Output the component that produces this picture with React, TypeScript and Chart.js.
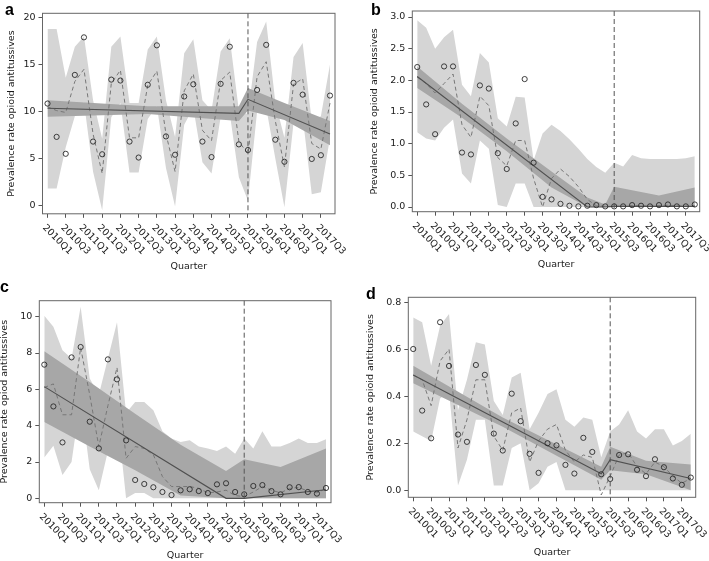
import { useEffect, useRef } from 'react';
import { Chart, registerables } from 'chart.js';

Chart.register(...registerables);

// quarters on the x axis (index = position)
const QUARTERS = [
  '2010Q1', '2010Q2', '2010Q3', '2010Q4', '2011Q1', '2011Q2', '2011Q3', '2011Q4',
  '2012Q1', '2012Q2', '2012Q3', '2012Q4', '2013Q1', '2013Q2', '2013Q3', '2013Q4',
  '2014Q1', '2014Q2', '2014Q3', '2014Q4', '2015Q1', '2015Q2', '2015Q3', '2015Q4',
  '2016Q1', '2016Q2', '2016Q3', '2016Q4', '2017Q1', '2017Q2', '2017Q3', '2017Q4',
];
const TICK_LABELS = [
  '2010Q1', '2010Q3', '2011Q1', '2011Q3', '2012Q1', '2012Q3', '2013Q1', '2013Q3',
  '2014Q1', '2014Q3', '2015Q1', '2015Q3', '2016Q1', '2016Q3', '2017Q1', '2017Q3',
];
const BREAK_QUARTER = '2015Q3';

// ---- panel a
const OBS_A = [10.85, 7.3, 5.5, 13.9, 17.9, 6.8, 5.45, 13.4, 13.3, 6.8, 5.1, 12.85, 17.05, 7.35, 5.4, 11.6,
  12.9, 6.8, 5.15, 12.95, 16.9, 6.5, 5.9, 12.3, 17.1, 7.0, 4.65, 13.05, 11.8, 4.95, 5.35, 11.7];
const FIT_A = [10.5, 10.1, 9.9, 13.2, 14.5, 7.6, 3.4, 13.0, 14.4, 7.2, 7.2, 12.8, 14.3, 7.6, 3.6, 12.2,
  14.0, 8.0, 6.9, 13.3, 14.2, 6.8, 5.5, 13.7, 15.3, 9.0, 4.1, 12.9, 13.5, 6.6, 6.0, 10.9];
const PI_HI_A = [18.8, 18.8, 13.6, 16.9, 18.0, 11.2, 7.1, 16.9, 18.0, 10.9, 10.9, 16.6, 18.0, 11.2, 7.3, 16.2,
  17.7, 11.2, 10.1, 16.4, 17.8, 10.1, 9.7, 17.4, 19.6, 11.0, 7.2, 15.8, 17.3, 9.0, 9.5, 15.0];
const PI_LO_A = [1.8, 1.8, 6.2, 9.5, 11.0, 3.6, -0.5, 9.4, 10.9, 3.5, 3.5, 9.2, 10.6, 4.0, -0.1, 8.6,
  10.4, 4.6, 3.4, 9.4, 9.8, 3.0, 0.5, 10.0, 10.4, 5.0, -0.2, 8.8, 9.5, 1.2, 1.4, 7.2];
const TREND_Q_A = ['2010Q1', '2015Q2', '2015Q3', '2017Q4'];
const TREND_A = [10.35, 9.8, 11.3, 7.6];
const CI_Q_A = ['2010Q1', '2012Q4', '2015Q2', '2015Q3', '2016Q3', '2017Q4'];
const CI_HI_A = [11.2, 10.55, 10.55, 12.5, 10.9, 9.0];
const CI_LO_A = [9.45, 9.75, 9.0, 10.1, 9.1, 6.4];
const Y_TICKS_A = [0, 5, 10, 15, 20];

// ---- panel b
const OBS_B = [2.21, 1.62, 1.15, 2.22, 2.22, 0.86, 0.83, 1.92, 1.87, 0.85, 0.6, 1.32, 2.02, 0.7, 0.16, 0.12,
  0.05, 0.02, 0.01, 0.02, 0.03, 0.01, 0.01, 0.01, 0.03, 0.02, 0.01, 0.03, 0.04, 0.01, 0.01, 0.04];
const FIT_B = [2.05, 1.95, 1.8, 1.95, 2.1, 1.3, 1.1, 1.75, 1.6, 0.78, 0.65, 1.05, 1.05, 0.45, 0.0, 0.45,
  0.6, 0.48, 0.32, 0.12, 0.02, 0.01, 0.01, 0.01, 0.02, 0.02, 0.01, 0.02, 0.03, 0.02, 0.01, 0.02];
const PI_HI_B = [2.95, 2.83, 2.5, 2.68, 2.8, 1.93, 1.75, 2.43, 2.28, 1.4, 1.27, 1.74, 1.73, 0.74, 1.16, 1.3,
  1.2, 1.07, 0.92, 0.76, 0.63, 0.54, 0.7, 0.64, 0.82, 0.77, 0.76, 0.76, 0.76, 0.76, 0.77, 0.8];
const PI_LO_B = [1.18, 1.08, 1.05, 1.25, 1.38, 0.53, 0.37, 1.05, 0.92, 0.03, 0.0, 0.37, 0.37, 0, 0, 0,
  0, 0, 0, 0, 0, 0, 0, 0, 0, 0, 0, 0, 0, 0, 0, 0];
const TREND_Q_B = ['2010Q1', '2014Q4', '2015Q2', '2015Q3', '2017Q4'];
const TREND_B = [2.06, 0.0, 0.0, 0.01, 0.01];
const CI_Q_B = ['2010Q1', '2011Q2', '2012Q3', '2013Q4', '2014Q4', '2015Q2', '2015Q3', '2016Q4', '2017Q4'];
const CI_HI_B = [2.22, 1.63, 1.08, 0.56, 0.15, 0.04, 0.32, 0.18, 0.31];
const CI_LO_B = [1.88, 1.41, 0.88, 0.31, 0.0, 0.0, 0.0, 0.0, 0.0];
const Y_TICKS_B = [0, 0.5, 1, 1.5, 2, 2.5, 3];

// ---- panel c
const OBS_C = [7.36, 5.06, 3.08, 7.76, 8.33, 4.22, 2.75, 7.65, 6.55, 3.19, 1.01, 0.79, 0.61, 0.35, 0.18, 0.44,
  0.5, 0.4, 0.29, 0.77, 0.83, 0.35, 0.22, 0.68, 0.73, 0.4, 0.22, 0.61, 0.62, 0.35, 0.26, 0.57];
const FIT_C = [6.1, 6.3, 4.6, 4.6, 8.3, 5.7, 2.85, 5.1, 7.2, 2.2, 2.85, 2.75, 2.4, 1.2, 0.65, 0.65,
  0.65, 0.55, 0.3, 0.35, 0.45, 0.15, 0.1, 0.35, 0.65, 0.45, 0.3, 0.55, 0.6, 0.4, 0.3, 0.55];
const PI_HI_C = [10.05, 9.45, 8.15, 7.7, 10.55, 6.6, 5.7, 7.7, 9.7, 4.7, 5.3, 5.3, 4.85, 3.7, 3.3, 3.1,
  3.2, 2.85, 2.75, 2.6, 2.85, 2.45, 3.3, 2.75, 3.7, 2.85, 2.85, 3.05, 3.3, 3.05, 3.05, 3.25];
const PI_LO_C = [2.25, 2.9, 1.28, 2.0, 5.5, 1.6, 0.45, 2.6, 4.7, 0.0, 0.3, 0.3, 0, 0, 0, 0,
  0, 0, 0, 0, 0, 0, 0, 0, 0, 0, 0, 0, 0, 0, 0, 0];
const TREND_Q_C = ['2010Q1', '2015Q1', '2015Q3', '2017Q4'];
const TREND_C = [6.15, 0.0, 0.0, 0.47];
const CI_Q_C = ['2010Q1', '2011Q2', '2012Q3', '2013Q4', '2015Q1', '2015Q3', '2016Q3', '2017Q4'];
const CI_HI_C = [8.1, 6.4, 4.65, 2.95, 1.5, 2.15, 1.72, 2.75];
const CI_LO_C = [4.2, 2.85, 1.55, 0.15, 0.0, 0.0, 0.0, 0.0];
const Y_TICKS_C = [0, 2, 4, 6, 8, 10];

// ---- panel d
const OBS_D = [0.601, 0.339, 0.221, 0.715, 0.529, 0.237, 0.206, 0.533, 0.491, 0.241, 0.169, 0.411, 0.294, 0.155, 0.074, 0.2,
  0.191, 0.108, 0.071, 0.223, 0.163, 0.068, 0.048, 0.15, 0.153, 0.087, 0.06, 0.132, 0.098, 0.05, 0.023, 0.054];
const FIT_D = [0.49, 0.47, 0.36, 0.55, 0.6, 0.18, 0.3, 0.47, 0.47, 0.23, 0.17, 0.33, 0.35, 0.12, 0.21, 0.26,
  0.28, 0.17, 0.12, 0.15, 0.14, -0.02, 0.06, 0.15, 0.16, 0.1, 0.07, 0.12, 0.1, 0.06, 0.03, 0.05];
const PI_HI_D = [0.735, 0.715, 0.53, 0.7, 0.75, 0.34, 0.47, 0.63, 0.62, 0.38, 0.32, 0.48, 0.5, 0.26, 0.33, 0.41,
  0.43, 0.3, 0.27, 0.31, 0.3, 0.14, 0.25, 0.28, 0.34, 0.25, 0.22, 0.26, 0.26, 0.19, 0.21, 0.24];
const PI_LO_D = [0.25, 0.23, 0.21, 0.39, 0.42, 0.02, 0.13, 0.3, 0.3, 0.02, 0.02, 0.18, 0.2, 0.0, 0.03, 0.1,
  0.12, 0, 0, 0, 0, 0, 0, 0, 0, 0, 0, 0, 0, 0, 0, 0];
const TREND_Q_D = ['2010Q1', '2015Q2', '2015Q3', '2017Q4'];
const TREND_D = [0.49, 0.07, 0.13, 0.05];
const CI_Q_D = ['2010Q1', '2012Q3', '2015Q2', '2015Q3', '2016Q3', '2017Q4'];
const CI_HI_D = [0.53, 0.31, 0.1, 0.185, 0.125, 0.11];
const CI_LO_D = [0.455, 0.27, 0.045, 0.085, 0.068, 0.0];
const Y_TICKS_D = [0, 0.2, 0.4, 0.6, 0.8];

const Y_TITLE = 'Prevalence rate opioid antitussives';
const Y_TITLE_C = 'Prevalence rate opiod antitussives';
const X_TITLE = 'Quarter';

const FONT = '"DejaVu Sans", sans-serif';
const TEXT = '#1a1a1a';
const FONT_SIZE = 9.5;

const PANELS = [
  {
    letter: 'a', yTitle: Y_TITLE, obs: OBS_A, fit: FIT_A, piHi: PI_HI_A, piLo: PI_LO_A,
    trendQ: TREND_Q_A, trend: TREND_A, ciQ: CI_Q_A, ciHi: CI_HI_A, ciLo: CI_LO_A,
    yMin: -0.89, yMax: 20.46, yTicks: Y_TICKS_A, decimals: 0,
    pos: { x: 0, y: 0 }, box: { left: 42.5, top: 13.3, right: 335, bottom: 213.8, titleX: 12, quarterY: 266.7, letterX: 5, letterY: 15 },
  },
  {
    letter: 'b', yTitle: Y_TITLE, obs: OBS_B, fit: FIT_B, piHi: PI_HI_B, piLo: PI_LO_B,
    trendQ: TREND_Q_B, trend: TREND_B, ciQ: CI_Q_B, ciHi: CI_HI_B, ciLo: CI_LO_B,
    yMin: -0.074, yMax: 3.095, yTicks: Y_TICKS_B, decimals: 1,
    pos: { x: 354, y: 0 }, box: { left: 58.3, top: 11, right: 345.7, bottom: 211.7, titleX: 20.7, quarterY: 265, letterX: 17, letterY: 15 },
  },
  {
    letter: 'c', yTitle: Y_TITLE_C, obs: OBS_C, fit: FIT_C, piHi: PI_HI_C, piLo: PI_LO_C,
    trendQ: TREND_Q_C, trend: TREND_C, ciQ: CI_Q_C, ciHi: CI_HI_C, ciLo: CI_LO_C,
    yMin: -0.24, yMax: 10.88, yTicks: Y_TICKS_C, decimals: 0,
    pos: { x: 0, y: 280 }, box: { left: 39.3, top: 20.7, right: 331, bottom: 222.7, titleX: 5, quarterY: 276, letterX: 0, letterY: 12 },
  },
  {
    letter: 'd', yTitle: Y_TITLE, obs: OBS_D, fit: FIT_D, piHi: PI_HI_D, piLo: PI_LO_D,
    trendQ: TREND_Q_D, trend: TREND_D, ciQ: CI_Q_D, ciHi: CI_HI_D, ciLo: CI_LO_D,
    yMin: -0.03, yMax: 0.821, yTicks: Y_TICKS_D, decimals: 1,
    pos: { x: 354, y: 280 }, box: { left: 54.3, top: 17.3, right: 341.7, bottom: 217.3, titleX: 16.7, quarterY: 272.7, letterX: 12, letterY: 19.3 },
  },
];

const W = 355;
const H = 281;

const panelPlugin = {
  id: 'panel',
  afterDatasetsDraw(chart: any) {
    const { ctx, chartArea: a } = chart;
    const x = chart.scales.x.getPixelForValue(QUARTERS.indexOf(BREAK_QUARTER));
    ctx.save();
    ctx.strokeStyle = '#555';
    ctx.lineWidth = 1;
    ctx.setLineDash([5, 3]);
    ctx.beginPath();
    ctx.moveTo(x, a.top);
    ctx.lineTo(x, a.bottom);
    ctx.stroke();
    ctx.restore();
  },
  afterDraw(chart: any, _a: any, opts: any) {
    const { ctx, chartArea: a } = chart;
    const xs = chart.scales.x;
    ctx.save();
    // frame round the plot region
    ctx.strokeStyle = '#666';
    ctx.lineWidth = 1;
    ctx.strokeRect(a.left, a.top, a.right - a.left, a.bottom - a.top);

    ctx.fillStyle = TEXT;
    ctx.font = `${FONT_SIZE}px ${FONT}`;
    // quarter labels, turned 45 degrees clockwise
    ctx.textAlign = 'left';
    ctx.textBaseline = 'middle';
    TICK_LABELS.forEach((lab) => {
      const px = xs.getPixelForValue(QUARTERS.indexOf(lab));
      ctx.save();
      ctx.translate(px - 3.5, a.bottom + 12.5);
      ctx.rotate(Math.PI / 4);
      ctx.fillText(lab, 0, 0);
      ctx.restore();
    });
    ctx.textAlign = 'center';
    ctx.fillText(X_TITLE, (a.left + a.right) / 2, opts.quarterY);
    ctx.save();
    ctx.translate(opts.titleX, (a.top + a.bottom) / 2);
    ctx.rotate(-Math.PI / 2);
    ctx.fillText(opts.yTitle, 0, 0);
    ctx.restore();
    // panel letter
    ctx.font = `bold 16px "Liberation Sans", Arial, sans-serif`;
    ctx.textAlign = 'left';
    ctx.textBaseline = 'alphabetic';
    ctx.fillStyle = '#000';
    ctx.fillText(opts.letter, opts.letterX, opts.letterY);
    ctx.restore();
  },
};

function Panel({ p }: { p: any }) {
  const canvasRef = useRef<HTMLCanvasElement>(null);
  const chartRef = useRef<Chart | null>(null);

  useEffect(() => {
    if (!canvasRef.current) return;
    const pts = (ys: number[]) => ys.map((y, i) => ({ x: i, y }));
    const knots = (qs: string[], ys: number[]) => qs.map((q, i) => ({ x: QUARTERS.indexOf(q), y: ys[i] }));
    const none = 'rgba(0,0,0,0)';
    const b = p.box;

    const gridOpts = { drawOnChartArea: false, drawTicks: true, tickLength: 4, color: '#555', lineWidth: 1 };

    chartRef.current = new Chart(canvasRef.current, {
      type: 'line',
      data: {
        datasets: [
          { data: pts(p.obs), showLine: false, pointRadius: 2.6, pointBorderWidth: 0.9,
            pointBorderColor: '#2a2a2a', pointBackgroundColor: none },
          { data: knots(p.trendQ, p.trend), borderColor: '#505050', borderWidth: 1.1, pointRadius: 0 },
          { data: pts(p.fit), borderColor: '#777', borderWidth: 1, borderDash: [4, 3], pointRadius: 0 },
          { data: knots(p.ciQ, p.ciHi), borderColor: none, pointRadius: 0, fill: '+1', backgroundColor: '#a7a7a7' },
          { data: knots(p.ciQ, p.ciLo), borderColor: none, pointRadius: 0, fill: false },
          { data: pts(p.piHi), borderColor: none, pointRadius: 0, fill: '+1', backgroundColor: '#d5d5d5' },
          { data: pts(p.piLo), borderColor: none, pointRadius: 0, fill: false },
        ] as any,
      },
      options: {
        responsive: false,
        animation: false,
        layout: { padding: { left: 0, top: b.top, right: W - b.right, bottom: 0 } },
        plugins: {
          legend: { display: false },
          tooltip: { enabled: false },
          panel: { ...b, yTitle: p.yTitle, letter: p.letter },
        } as any,
        scales: {
          x: {
            type: 'linear', min: -0.55, max: 31.55,
            afterBuildTicks: (s: any) => { s.ticks = TICK_LABELS.map((l) => ({ value: QUARTERS.indexOf(l) })); },
            afterFit: (s: any) => { s.height = H - b.bottom; },
            ticks: { display: false },
            grid: gridOpts,
            border: { display: false },
          },
          y: {
            type: 'linear', min: p.yMin, max: p.yMax,
            afterBuildTicks: (s: any) => { s.ticks = p.yTicks.map((v: number) => ({ value: v })); },
            afterFit: (s: any) => { s.width = b.left; },
            ticks: {
              color: TEXT, padding: 3, font: { family: FONT, size: FONT_SIZE },
              callback: (v: any) => Number(v).toFixed(p.decimals),
            },
            grid: gridOpts,
            border: { display: false },
          },
        },
      } as any,
      plugins: [panelPlugin],
    });

    return () => {
      chartRef.current?.destroy();
    };
  }, [p]);

  return (
    <div style={{ position: 'absolute', left: p.pos.x, top: p.pos.y, width: W, height: H }}>
      <canvas ref={canvasRef} width={W} height={H} style={{ width: W, height: H }} />
    </div>
  );
}

export default function App() {
  return (
    <div style={{ position: 'absolute', left: 0, top: 0, width: 709, height: 561, background: '#fff', overflow: 'hidden' }}>
      {PANELS.map((p) => <Panel key={p.letter} p={p} />)}
    </div>
  );
}
